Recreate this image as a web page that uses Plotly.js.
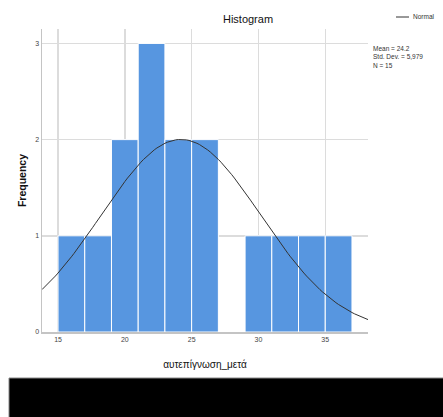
<!DOCTYPE html>
<html>
<head>
<meta charset="utf-8">
<script src="https://cdn.plot.ly/plotly-3.0.1.min.js"></script>
<style>
html,body{margin:0;padding:0;background:#fff;}
#chart{width:443px;height:417px;}
</style>
</head>
<body>
<div id="chart"></div>
<script>
// Data
const binStarts = [15, 17, 19, 21, 23, 25, 27, 29, 31, 33, 35];
const counts    = [1, 1, 2, 3, 2, 2, 0, 1, 1, 1, 1];
const binWidth  = 2;
const meanVal   = 24.2;
const sdVal     = 5.979;
const nVal      = 15;
const xTicks    = [15, 20, 25, 30, 35];
const yTicks    = [0, 1, 2, 3];

const barX = binStarts.map(s => s + binWidth / 2);

// Normal curve defined by the printed Mean / Std. Dev. / N
const curveX = [];
const curveY = [];
for (let i = 0; i <= 122; i++) {
  const x = 13.8 + i * 0.2;
  curveX.push(x);
  const z = (x - meanVal) / sdVal;
  curveY.push(nVal * binWidth * Math.exp(-0.5 * z * z) / (sdVal * Math.sqrt(2 * Math.PI)));
}

const font = 'Liberation Sans, Arial, sans-serif';

const traces = [
  {
    type: 'bar',
    x: barX,
    y: counts,
    width: binWidth,
    marker: {color: '#5796E0', line: {color: '#ffffff', width: 1}},
    hoverinfo: 'x+y',
    showlegend: false
  },
  {
    type: 'scatter',
    mode: 'lines',
    x: curveX,
    y: curveY,
    line: {color: '#333333', width: 1},
    name: 'Normal',
    showlegend: false
  }
];

const layout = {
  width: 443,
  height: 417,
  margin: {l: 42, r: 75, t: 29, b: 85},
  paper_bgcolor: '#ffffff',
  plot_bgcolor: '#ffffff',
  font: {family: font, color: '#222'},
  title: {text: 'Histogram', font: {family: font, size: 11, color: '#111'}, x: 248/443, xanchor: 'center', y: 1 - 19/417, yanchor: 'middle'},
  bargap: 0,
  xaxis: {
    range: [13.8, 38.2],
    tickvals: xTicks,
    ticktext: xTicks.map(String),
    ticks: '',
    showgrid: true,
    gridcolor: '#dcdcdc',
    gridwidth: 1.5,
    showline: true,
    linecolor: '#c4c4c4',
    linewidth: 1.5,
    zeroline: false,
    tickfont: {family: font, size: 7, color: '#444'},
    title: {text: 'αυτεπίγνωση_μετά', font: {family: font, size: 10, color: '#111'}, standoff: 19}
  },
  yaxis: {
    range: [0, 3.15],
    tickvals: yTicks,
    ticktext: yTicks.map(String),
    ticks: '',
    showgrid: true,
    gridcolor: '#dcdcdc',
    gridwidth: 1.5,
    showline: true,
    linecolor: '#c4c4c4',
    linewidth: 1.5,
    zeroline: false,
    tickfont: {family: font, size: 7, color: '#444'},
    title: {text: '<b>Frequency</b>', font: {family: font, size: 10.5, color: '#111'}, standoff: 6}
  },
  shapes: [
    // black band at the bottom of the picture
    {type: 'rect', xref: 'paper', yref: 'paper', layer: 'above',
     x0: (9 - 42) / 326, x1: (445 - 42) / 326,
     y0: (332 - 378) / 303, y1: (332 - 420) / 303,
     fillcolor: '#000000', line: {color: '#888888', width: 1}},
    // legend line sample
    {type: 'line', xref: 'paper', yref: 'paper',
     x0: (396 - 42) / 326, x1: (409 - 42) / 326,
     y0: (332 - 17) / 303, y1: (332 - 17) / 303,
     line: {color: '#333333', width: 1}}
  ],
  annotations: [
    {xref: 'paper', yref: 'paper', x: (411 - 42) / 326, y: (332 - 17) / 303,
     xanchor: 'left', yanchor: 'middle', showarrow: false, text: 'Normal',
     font: {family: font, size: 6.5, color: '#333'}},
    {xref: 'paper', yref: 'paper', x: (371 - 42) / 326, y: (332 - 43) / 303,
     xanchor: 'left', yanchor: 'top', align: 'left', showarrow: false,
     text: 'Mean = ' + meanVal + '<br>Std. Dev. = ' + String(sdVal).replace('.', ',') + '<br>N = ' + nVal,
     font: {family: font, size: 6.5, color: '#333'}}
  ]
};

Plotly.newPlot('chart', traces, layout, {displayModeBar: false, staticPlot: true});
</script>
</body>
</html>
